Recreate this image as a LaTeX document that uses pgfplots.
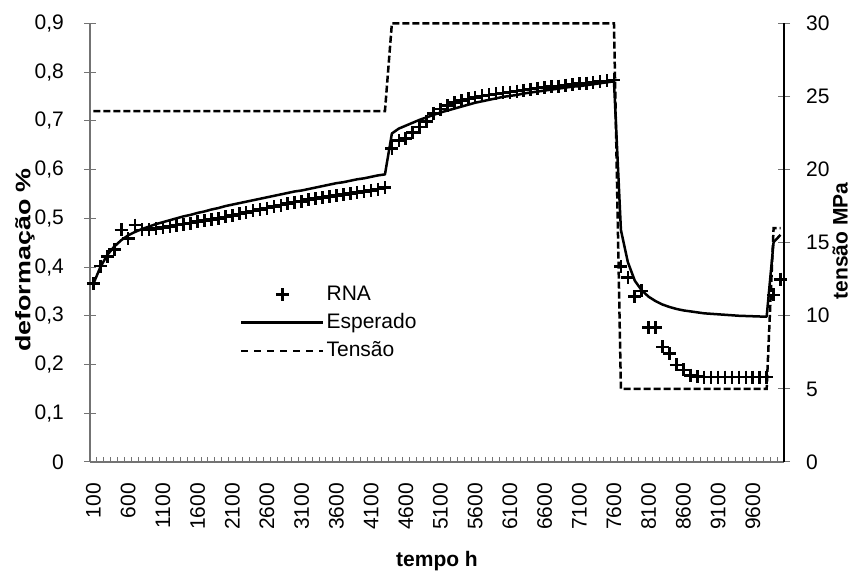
\documentclass[border=0pt]{standalone}
\usepackage{fontspec}
\setmainfont{Liberation Sans}
\usepackage{graphicx}
\usepackage{pgfplots}
\pgfplotsset{compat=1.18}
\pgfplotsset{rnaleg/.style={legend image code/.code={\draw[##1, draw=none, fill=none] (0pt,0pt) -- (82pt,0pt); \draw[##1] plot coordinates {(41pt,0pt)};}}}
\begin{document}
\fontsize{21}{25}\selectfont
\begin{tikzpicture}[font=\fontsize{21}{25}\selectfont]
\useasboundingbox (0,0) rectangle (853pt,572pt);
\begin{axis}[
  at={(90pt,110pt)}, anchor=south west,
  scale only axis, width=694pt, height=438.7pt,
  xmin=50, xmax=10050, ymin=0, ymax=0.9,
  clip=false,
  axis x line*=bottom, axis y line*=left,
  axis line style={line width=1.3pt, draw=black!55, -},
  xtick={100,600,1100,1600,2100,2600,3100,3600,4100,4600,5100,5600,6100,6600,7100,7600,8100,8600,9100,9600},
  xticklabels={100,600,1100,1600,2100,2600,3100,3600,4100,4600,5100,5600,6100,6600,7100,7600,8100,8600,9100,9600},
  scaled x ticks=false,
  minor xtick={50,150,...,10050},
  major x tick style={draw=none},
  minor x tick style={draw=black!55, line width=1pt},
  xtick align=inside,
  minor tick length=4.5pt,
  xticklabel style={yshift=-6pt, rotate=90, anchor=east, inner sep=0pt},
  xticklabel shift=15pt,
  ytick={0,0.1,0.2,0.3,0.4,0.5,0.6,0.7,0.8,0.9},
  ytick align=center,
  major tick length=12pt,
  major y tick style={draw=black!55, line width=1pt},
  scaled y ticks=false,
  yticklabel style={/pgf/number format/fixed, /pgf/number format/precision=1, /pgf/number format/use comma, /pgf/number format/assume math mode=true, anchor=east, inner sep=0pt, xshift=-20pt},
  xlabel={\textbf{tempo h}},
  xlabel style={at={(axis description cs:0.5,-0.2268)}, anchor=center, inner sep=0pt},
  ylabel={\scalebox{1.28}[1]{\textbf{deformação \%}}},
  ylabel style={at={(axis description cs:-0.0937,0.4605)}, anchor=center, inner sep=0pt},
  legend style={at={(axis description cs:0.216,0.317)}, anchor=west, draw=none, fill=none, inner sep=0pt, row sep=6pt, nodes={inner sep=2pt}, /tikz/every even column/.append style={column sep=1pt}},
  legend cell align=left,
  legend image code/.code={\draw[#1] (0pt,0pt) -- (82pt,0pt);},
]
\addplot[black, only marks, mark=+, mark size=6.5pt, mark options={line width=2.6pt}, rnaleg]
  table[row sep=\\]{
t v\\
100 0.366\\ 200 0.402\\ 300 0.421\\ 400 0.436\\ 500 0.476\\ 600 0.458\\ 700 0.486\\ 800 0.476\\ 900 0.477\\ 1000 0.479\\
1100 0.481\\ 1200 0.483\\ 1300 0.486\\ 1400 0.488\\ 1500 0.490\\ 1600 0.493\\ 1700 0.495\\ 1800 0.498\\ 1900 0.500\\ 2000 0.503\\
2100 0.506\\ 2200 0.509\\ 2300 0.512\\ 2400 0.515\\ 2500 0.518\\ 2600 0.521\\ 2700 0.524\\ 2800 0.527\\ 2900 0.530\\ 3000 0.533\\
3100 0.535\\ 3200 0.538\\ 3300 0.540\\ 3400 0.543\\ 3500 0.545\\ 3600 0.547\\ 3700 0.549\\ 3800 0.551\\ 3900 0.553\\ 4000 0.555\\
4100 0.557\\ 4200 0.560\\ 4300 0.563\\ 4400 0.643\\ 4500 0.660\\ 4600 0.664\\ 4700 0.676\\ 4800 0.687\\ 4900 0.699\\ 5000 0.715\\
5100 0.724\\ 5200 0.731\\ 5300 0.737\\ 5400 0.741\\ 5500 0.745\\ 5600 0.748\\ 5700 0.751\\ 5800 0.753\\ 5900 0.755\\ 6000 0.757\\
6100 0.759\\ 6200 0.761\\ 6300 0.763\\ 6400 0.765\\ 6500 0.767\\ 6600 0.768\\ 6700 0.770\\ 6800 0.771\\ 6900 0.773\\ 7000 0.774\\
7100 0.776\\ 7200 0.777\\ 7300 0.779\\ 7400 0.780\\ 7500 0.782\\ 7600 0.784\\ 7700 0.401\\ 7800 0.378\\ 7900 0.339\\ 8000 0.351\\
8100 0.276\\ 8200 0.276\\ 8300 0.236\\ 8400 0.222\\ 8500 0.199\\ 8600 0.189\\ 8700 0.178\\ 8800 0.175\\ 8900 0.174\\ 9000 0.174\\
9100 0.174\\ 9200 0.174\\ 9300 0.174\\ 9400 0.174\\ 9500 0.174\\ 9600 0.174\\ 9700 0.174\\ 9800 0.174\\ 9900 0.343\\ 10000 0.375\\
};
\addlegendentry{RNA}
\addplot[black, line width=2.5pt, no marks, line join=round]
  table[row sep=\\]{
t v\\
100 0.366\\ 200 0.400\\ 300 0.425\\ 400 0.442\\ 500 0.455\\ 600 0.465\\ 700 0.472\\ 800 0.478\\ 900 0.483\\ 1000 0.488\\
1100 0.492\\ 1200 0.496\\ 1300 0.500\\ 1400 0.504\\ 1500 0.507\\ 1600 0.511\\ 1700 0.514\\ 1800 0.518\\ 1900 0.521\\ 2000 0.525\\
2100 0.528\\ 2200 0.531\\ 2300 0.534\\ 2400 0.537\\ 2500 0.540\\ 2600 0.543\\ 2700 0.546\\ 2800 0.549\\ 2900 0.552\\ 3000 0.555\\
3100 0.557\\ 3200 0.560\\ 3300 0.563\\ 3400 0.566\\ 3500 0.569\\ 3600 0.572\\ 3700 0.574\\ 3800 0.577\\ 3900 0.580\\ 4000 0.582\\
4100 0.585\\ 4200 0.588\\ 4300 0.590\\ 4400 0.674\\ 4500 0.684\\ 4600 0.690\\ 4700 0.696\\ 4800 0.702\\ 4900 0.707\\ 5000 0.712\\
5100 0.717\\ 5200 0.721\\ 5300 0.725\\ 5400 0.729\\ 5500 0.733\\ 5600 0.737\\ 5700 0.740\\ 5800 0.743\\ 5900 0.746\\ 6000 0.749\\
6100 0.751\\ 6200 0.753\\ 6300 0.756\\ 6400 0.758\\ 6500 0.760\\ 6600 0.762\\ 6700 0.764\\ 6800 0.766\\ 6900 0.768\\ 7000 0.770\\
7100 0.771\\ 7200 0.773\\ 7300 0.775\\ 7400 0.777\\ 7500 0.779\\ 7600 0.781\\ 7700 0.476\\ 7800 0.410\\ 7900 0.372\\ 8000 0.352\\
8100 0.339\\ 8200 0.330\\ 8300 0.323\\ 8400 0.318\\ 8500 0.314\\ 8600 0.311\\ 8700 0.309\\ 8800 0.307\\ 8900 0.305\\ 9000 0.304\\
9100 0.303\\ 9200 0.302\\ 9300 0.301\\ 9400 0.300\\ 9500 0.2995\\ 9600 0.299\\ 9700 0.2985\\ 9800 0.298\\ 9900 0.451\\ 10000 0.466\\
};
\addlegendentry{Esperado}
\addlegendimage{black, line width=2.5pt, dash pattern=on 7pt off 6pt}
\addlegendentry{Tensão}
\end{axis}
\begin{axis}[
  at={(90pt,110pt)}, anchor=south west,
  scale only axis, width=694pt, height=438.7pt,
  xmin=50, xmax=10050, ymin=0, ymax=30,
  clip=false,
  axis x line=none, axis y line*=right,
  axis line style={line width=1.2pt, draw=black, -},
  ytick={0,5,10,15,20,25,30},
  ytick align=center,
  major tick length=12pt,
  major y tick style={draw=black!55, line width=1pt},
  yticklabel style={/pgf/number format/assume math mode=true, anchor=west, inner sep=0pt, xshift=16pt},
  ylabel={\textbf{tensão MPa}},
  ylabel style={at={(axis description cs:1.081,0.504)}, anchor=center, inner sep=0pt},
]
\addplot[black, line width=2.5pt, dash pattern=on 7pt off 3pt, no marks]
  table[row sep=\\]{
t s\\
100 24\\ 4300 24\\ 4400 30\\ 7600 30\\ 7700 5\\ 9800 5\\ 9900 16\\ 10000 16\\
};
\end{axis}
\end{tikzpicture}
\end{document}
